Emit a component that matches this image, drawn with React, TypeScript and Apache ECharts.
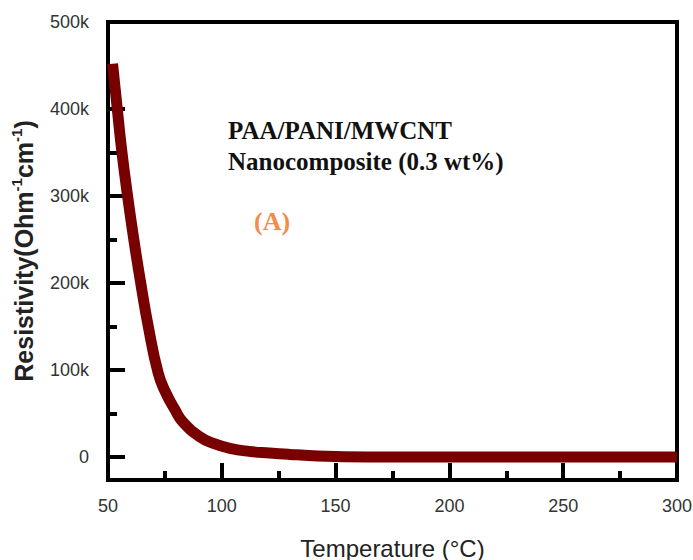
import React, { useEffect, useRef } from "react";
import * as echarts from "echarts";

const temperature = [52, 54, 56, 58.5, 61.4, 64.5, 67.7, 72, 75, 79.5, 83, 90.5, 96, 103.6, 112, 121, 130, 140, 150, 175, 200, 250, 300];
const resistivity = [452000, 402000, 353000, 302000, 249000, 198000, 150000, 97000, 76000, 54000, 40000, 23000, 16000, 10000, 6500, 4600, 3000, 1500, 600, 0, 0, 0, 0];

const yMajorTicks = [0, 100000, 200000, 300000, 400000, 500000];
const yMinorTicks = [50000, 150000, 250000, 350000, 450000];
const xMinorTicks = [75, 125, 175, 225, 275];

const annotationLines = ["PAA/PANI/MWCNT", "Nanocomposite (0.3 wt%)"];
const panelLabel = "(A)";

export default function App() {
  const ref = useRef<HTMLDivElement>(null);
  useEffect(() => {
    if (!ref.current) return;
    const chart = echarts.init(ref.current, null, { renderer: "svg" });
    const data = temperature.map((t, i) => [t, resistivity[i]]);
    const yMin = -26400;
    const yMax = 500000;
    const labelStyle = { color: "#333", fontFamily: "Liberation Sans, Arial", fontSize: 18 };
    chart.setOption({
      animation: false,
      backgroundColor: "#fff",
      grid: {
        left: 108, right: 16, top: 22, bottom: 80, containLabel: false, outerBoundsMode: "none",
        show: true, borderColor: "#000", borderWidth: 4, backgroundColor: "transparent",
      },
      xAxis: [
        {
          type: "value", min: 50, max: 300, interval: 50, position: "bottom",
          axisLine: { show: true, onZero: false, lineStyle: { color: "#000", width: 4 } },
          axisTick: { show: true, inside: true, length: 17, lineStyle: { color: "#000", width: 4 } },
          axisLabel: { ...labelStyle, margin: 17 },
          splitLine: { show: false },
          name: "Temperature (°C)", nameLocation: "middle", nameGap: 56,
          nameTextStyle: { color: "#222", fontFamily: "Liberation Sans, Arial", fontSize: 24 },
        },
        {
          type: "value", min: 50, max: 300, position: "bottom",
          axisLine: { show: false, onZero: false },
          axisTick: { show: true, inside: true, length: 9, customValues: xMinorTicks, lineStyle: { color: "#000", width: 4 } },
          axisLabel: { show: false },
          splitLine: { show: false },
        },
      ],
      yAxis: [
        {
          type: "value", min: yMin, max: yMax, position: "left",
          axisLine: { show: true, onZero: false, lineStyle: { color: "#000", width: 4 } },
          axisTick: { show: true, inside: true, length: 17, customValues: yMajorTicks, lineStyle: { color: "#000", width: 4 } },
          axisLabel: {
            ...labelStyle, margin: 19, customValues: yMajorTicks,
            formatter: (v: number) => (v === 0 ? "0" : `${Math.round(v / 1000)}k`),
          },
          splitLine: { show: false },
          name: "Resistivity(Ohm{sup|-1}cm{sup|-1})", nameLocation: "middle", nameGap: 68, nameRotate: 90,
          nameTextStyle: {
            color: "#222", fontFamily: "Liberation Sans, Arial", fontSize: 25, fontWeight: "bold", lineHeight: 30,
            rich: { sup: { fontSize: 15, fontWeight: "bold", color: "#222", fontFamily: "Liberation Sans, Arial", lineHeight: 14, verticalAlign: "top" } },
          },
        },
        {
          type: "value", min: yMin, max: yMax, position: "left",
          axisLine: { show: false, onZero: false },
          axisTick: { show: true, inside: true, length: 9, customValues: yMinorTicks, lineStyle: { color: "#000", width: 4 } },
          axisLabel: { show: false },
          splitLine: { show: false },
        },
      ],
      series: [
        {
          type: "line", data, xAxisIndex: 0, yAxisIndex: 0, smooth: 0.5, showSymbol: false,
          lineStyle: { color: "#780000", width: 11 },
        },
      ],
      graphic: [
        { type: "text", left: 228, top: 118, style: { text: annotationLines[0], fill: "#111", font: "bold 25px 'Liberation Serif', 'Times New Roman', serif" } },
        { type: "text", left: 228, top: 149, style: { text: annotationLines[1], fill: "#111", font: "bold 25px 'Liberation Serif', 'Times New Roman', serif" } },
        { type: "text", left: 254, top: 208, style: { text: panelLabel, fill: "#f28b4b", font: "bold 26px 'Liberation Serif', 'Times New Roman', serif" } },
      ],
    });
    return () => chart.dispose();
  }, []);
  return <div ref={ref} style={{ position: "fixed", left: 0, top: 0, width: 693, height: 560 }} />;
}
